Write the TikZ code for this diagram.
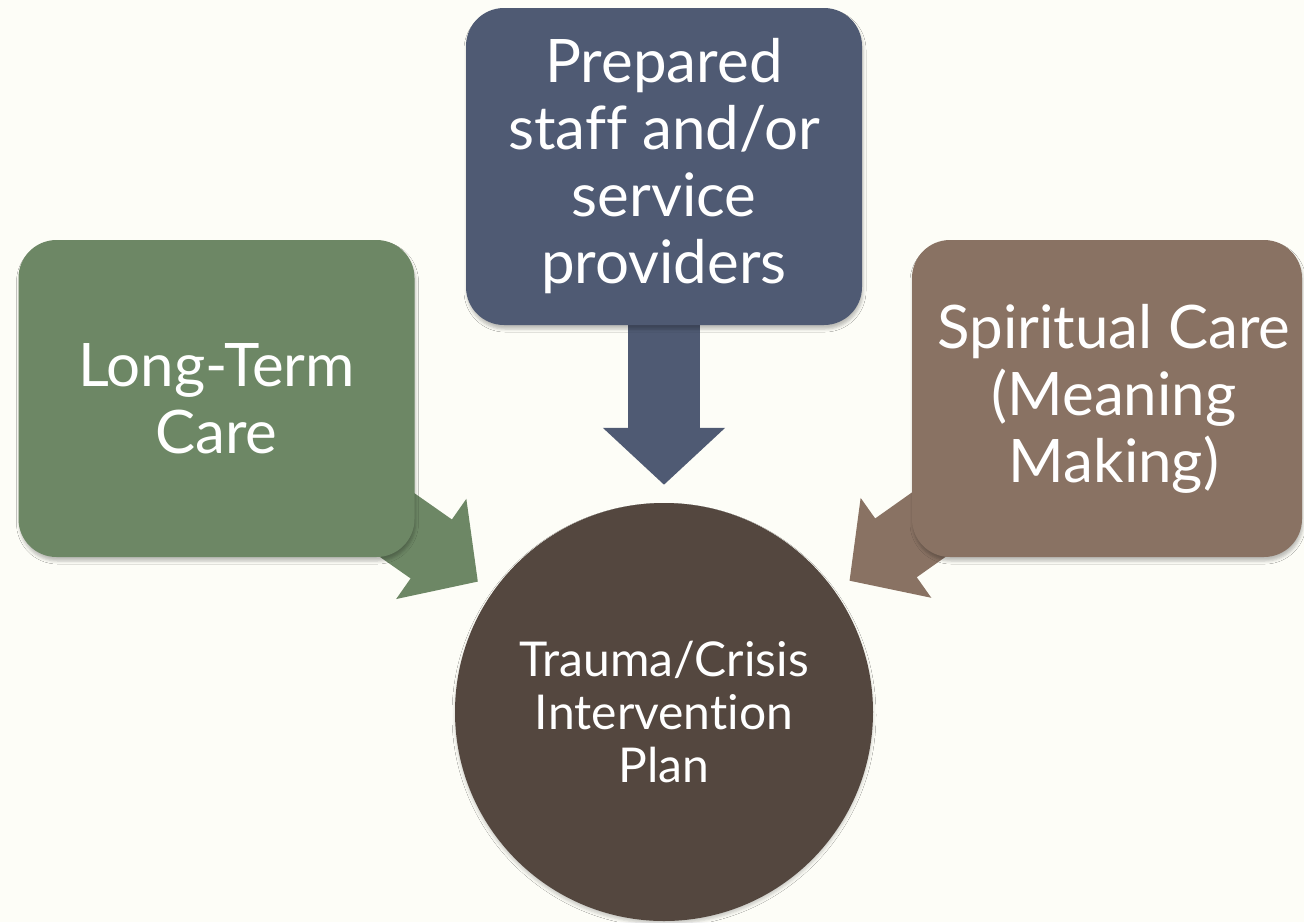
\documentclass[tikz,border=0pt]{standalone}
\usepackage{fontspec}
\setmainfont{Lato}[Ligatures=CommonOff]
\usetikzlibrary{arrows.meta,backgrounds,shadows.blur}

\definecolor{pagebg}{RGB}{253,253,247}
\definecolor{sage}{RGB}{109,135,101}
\definecolor{slate}{RGB}{79,90,115}
\definecolor{taupe}{RGB}{137,114,99}
\definecolor{umber}{RGB}{84,71,63}

\begin{document}
\begin{tikzpicture}[
    x=1pt, y=-1pt,
    box/.style={rectangle, rounded corners=38pt, minimum width=396pt, minimum height=317pt,
        inner sep=0pt, align=center, text=white, font=\fontsize{60}{67}\selectfont,
        blur shadow={shadow xshift=1pt, shadow yshift=-4pt, shadow blur radius=3pt, shadow opacity=25}},
    hub/.style={circle, minimum size=418pt, inner sep=0pt, align=center, fill=umber,
        text=white, font=\fontsize{48}{53}\selectfont,
        blur shadow={shadow xshift=0pt, shadow yshift=-3pt, shadow blur radius=3pt, shadow opacity=20}},
    feed/.style={line width=72pt, -{Triangle[length=57pt, width=119pt]}, shorten >=18pt}
]

% Three inputs and the plan
\node[box, fill=slate] (staff) at (664, 166.5) {Prepared\\staff and/or\\service\\providers};
\node[box, fill=sage] (ltc) at (216.5, 398.5) {Long-Term\\Care};
\node[box, fill=taupe, minimum width=390pt] (spirit) at (1107, 398.5) {\hspace{14pt}Spiritual Care\\\hspace{14pt}(Meaning\\\hspace{14pt}Making)};
\node[hub] (plan) at (664, 712) {Trauma/Crisis\\Intervention\\Plan};

% Page and block arrows, behind the boxes
\begin{scope}[on background layer]
\fill[pagebg] (0, 0) rectangle (1304, 922);
\draw[feed, slate] (staff.center) -- (plan);
\draw[feed, sage] (ltc.center) -- (plan);
\draw[feed, taupe] (spirit.center) -- (plan);
\end{scope}

\useasboundingbox (0, 0) rectangle (1304, 922);
\end{tikzpicture}
\end{document}
